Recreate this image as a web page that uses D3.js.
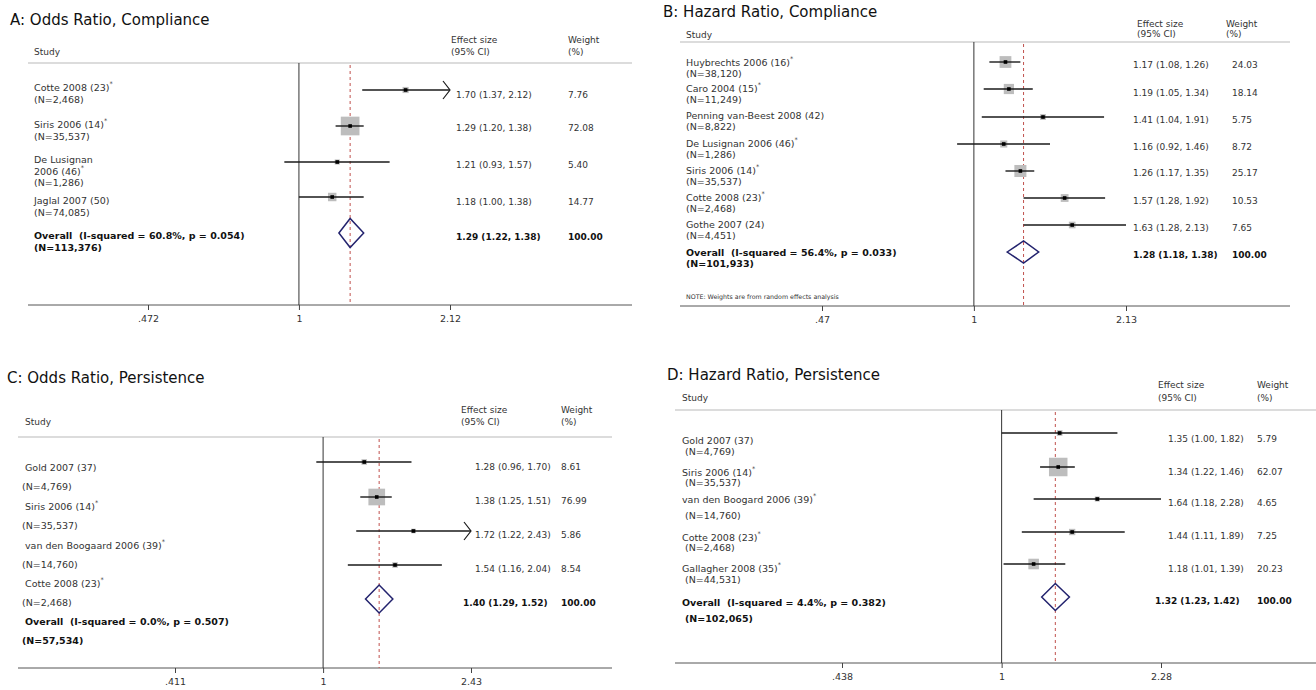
<!DOCTYPE html>
<html><head><meta charset="utf-8">
<script src="https://cdn.jsdelivr.net/npm/d3@7"></script>
<style>
body{margin:0;background:#fff}
svg{display:block;font-family:"DejaVu Sans",Verdana,sans-serif}
</style></head><body>
<svg id="chart" width="1316" height="690"></svg>
<script>
// ---- A: Odds Ratio, Compliance ----
const titleA = "A: Odds Ratio, Compliance";
const studiesA = ["Cotte 2008 (23)*", "Siris 2006 (14)*", "De Lusignan\n2006 (46)*", "Jaglal 2007 (50)"];
const sizesA = ["2,468", "35,537", "1,286", "74,085"];
const esA = [1.70, 1.29, 1.21, 1.18];
const lowerA = [1.37, 1.20, 0.93, 1.00];
const upperA = [2.12, 1.38, 1.57, 1.38];
const weightA = [7.76, 72.08, 5.40, 14.77];
const offscaleA = [true, false, false, false];
const overallA = [1.29, 1.22, 1.38];
const overallStatsA = ["60.8%", "0.054", "113,376"];
const ticksA = [0.472, 1, 2.12];
const tickLabelsA = [".472", "1", "2.12"];

// ---- B: Hazard Ratio, Compliance ----
const titleB = "B: Hazard Ratio, Compliance";
const studiesB = ["Huybrechts 2006 (16)*", "Caro 2004 (15)*", "Penning van-Beest 2008 (42)", "De Lusignan 2006 (46)*", "Siris 2006 (14)*", "Cotte 2008 (23)*", "Gothe 2007 (24)"];
const sizesB = ["38,120", "11,249", "8,822", "1,286", "35,537", "2,468", "4,451"];
const esB = [1.17, 1.19, 1.41, 1.16, 1.26, 1.57, 1.63];
const lowerB = [1.08, 1.05, 1.04, 0.92, 1.17, 1.28, 1.28];
const upperB = [1.26, 1.34, 1.91, 1.46, 1.35, 1.92, 2.13];
const weightB = [24.03, 18.14, 5.75, 8.72, 25.17, 10.53, 7.65];
const offscaleB = [false, false, false, false, false, false, false];
const overallB = [1.28, 1.18, 1.38];
const overallStatsB = ["56.4%", "0.033", "101,933"];
const ticksB = [0.47, 1, 2.13];
const tickLabelsB = [".47", "1", "2.13"];
const noteB = "NOTE: Weights are from random effects analysis";

// ---- C: Odds Ratio, Persistence ----
const titleC = "C: Odds Ratio, Persistence";
const studiesC = ["Gold 2007 (37)", "Siris 2006 (14)*", "van den Boogaard 2006 (39)*", "Cotte 2008 (23)*"];
const sizesC = ["4,769", "35,537", "14,760", "2,468"];
const esC = [1.28, 1.38, 1.72, 1.54];
const lowerC = [0.96, 1.25, 1.22, 1.16];
const upperC = [1.70, 1.51, 2.43, 2.04];
const weightC = [8.61, 76.99, 5.86, 8.54];
const offscaleC = [false, false, true, false];
const overallC = [1.40, 1.29, 1.52];
const overallStatsC = ["0.0%", "0.507", "57,534"];
const ticksC = [0.411, 1, 2.43];
const tickLabelsC = [".411", "1", "2.43"];

// ---- D: Hazard Ratio, Persistence ----
const titleD = "D: Hazard Ratio, Persistence";
const studiesD = ["Gold 2007 (37)", "Siris 2006 (14)*", "van den Boogard 2006 (39)*", "Cotte 2008 (23)*", "Gallagher 2008 (35)*"];
const sizesD = ["4,769", "35,537", "14,760", "2,468", "44,531"];
const esD = [1.35, 1.34, 1.64, 1.44, 1.18];
const lowerD = [1.00, 1.22, 1.18, 1.11, 1.01];
const upperD = [1.82, 1.46, 2.28, 1.89, 1.39];
const weightD = [5.79, 62.07, 4.65, 7.25, 20.23];
const offscaleD = [false, false, false, false, false];
const overallD = [1.32, 1.23, 1.42];
const overallStatsD = ["4.4%", "0.382", "102,065"];
const ticksD = [0.438, 1, 2.28];
const tickLabelsD = [".438", "1", "2.28"];

// Layout of each panel on the page
const layouts = {
  A: {title: [10, 20], studyHead: [34, 52], esHead: [451, 40], wHead: [568, 40], headGap: 12,
      headLine: 63, left: 28, right: 632, axisY: 305, tickRange: [148, 450],
      rows: [90, 126, 162, 197, 233], labelY: [87, 124, 159, 200, 235], labelGap: 11.5,
      labelX: 34, nX: 34, valY: [95, 128, 165, 202, 237], valX: 456, overallValX: 456, wX: 568,
      box: 2.2, diamondH: 29},
  B: {title: [663, 12], studyHead: [686, 35], esHead: [1137, 24], wHead: [1226, 24], headGap: 10,
      headLine: 42, left: 680, right: 1290, axisY: 306, tickRange: [822, 1126],
      rows: [62, 89, 117, 144, 171, 198, 225, 252], labelY: [62, 88, 115, 143, 170, 197, 224, 252], labelGap: 11,
      labelX: 686, nX: 686, valY: [65, 93, 120, 147, 173, 201, 228, 255], valX: 1133, overallValX: 1133, wX: 1232,
      box: 2.4, diamondH: 22, note: [686, 296]},
  C: {title: [7, 378], studyHead: [25, 422], esHead: [461, 410], wHead: [561, 410], headGap: 12,
      headLine: 437, left: 18, right: 612, axisY: 668, tickRange: [175, 471],
      rows: [462, 497, 531, 565, 599], labelY: [467, 506, 545, 583, 621], labelGap: 19.4,
      labelX: 25, nX: 22, valY: [467, 501, 535, 569, 603], valX: 475, overallValX: 463, wX: 561,
      box: 1.9, diamondH: 28},
  D: {title: [667, 375], studyHead: [682, 398], esHead: [1158, 385], wHead: [1257, 385], headGap: 13,
      headLine: 410, left: 675, right: 1316, axisY: 663, tickRange: [842, 1161],
      rows: [433, 467, 499, 532, 564, 597], labelY: [440, 472.3, 499.3, 536.7, 568.3, 601.7],
      labelGap: [10.7, 9.4, 15.7, 10, 11, 16.7],
      labelX: 682, nX: 685, valY: [439, 472, 503, 536, 569, 601], valX: 1168, overallValX: 1155, wX: 1257,
      box: 2.35, diamondH: 27}
};

const panels = [
  {key: "A", title: titleA, studies: studiesA, sizes: sizesA, es: esA, lo: lowerA, hi: upperA, w: weightA, off: offscaleA, overall: overallA, stats: overallStatsA, ticks: ticksA, tickLabels: tickLabelsA},
  {key: "B", title: titleB, studies: studiesB, sizes: sizesB, es: esB, lo: lowerB, hi: upperB, w: weightB, off: offscaleB, overall: overallB, stats: overallStatsB, ticks: ticksB, tickLabels: tickLabelsB, note: noteB},
  {key: "C", title: titleC, studies: studiesC, sizes: sizesC, es: esC, lo: lowerC, hi: upperC, w: weightC, off: offscaleC, overall: overallC, stats: overallStatsC, ticks: ticksC, tickLabels: tickLabelsC},
  {key: "D", title: titleD, studies: studiesD, sizes: sizesD, es: esD, lo: lowerD, hi: upperD, w: weightD, off: offscaleD, overall: overallD, stats: overallStatsD, ticks: ticksD, tickLabels: tickLabelsD}
];

const svg = d3.select("#chart");
const f2 = d3.format(".2f");
const ciText = (e, l, h) => `${f2(e)} (${f2(l)}, ${f2(h)})`;

// Writes a label line; a trailing "*" is set as a small superscript
function labelLine(g, x, y, str, opts) {
  const t = g.append("text").attr("x", x).attr("y", y)
    .attr("dominant-baseline", "central")
    .attr("font-size", opts.size).attr("fill", opts.fill)
    .attr("font-weight", opts.weight || "normal")
    .style("white-space", "pre");
  const star = str.endsWith("*");
  t.append("tspan").text(star ? str.slice(0, -1) : str);
  if (star) t.append("tspan").attr("dy", -3).attr("font-size", 6.5).text("*");
  return t;
}

function drawPanel(p) {
  const L = layouts[p.key];
  const g = svg.append("g").attr("class", "panel-" + p.key);
  const x = d3.scaleLog().domain([p.ticks[0], p.ticks[2]]).range(L.tickRange);
  const gap = i => Array.isArray(L.labelGap) ? L.labelGap[i] : L.labelGap;

  // title
  g.append("text").attr("x", L.title[0]).attr("y", L.title[1])
    .attr("dominant-baseline", "central").attr("font-size", 15).attr("fill", "#111")
    .text(p.title);

  // column headers
  const head = {size: 9, fill: "#333"};
  labelLine(g, L.studyHead[0], L.studyHead[1], "Study", head);
  labelLine(g, L.esHead[0], L.esHead[1], "Effect size", head);
  labelLine(g, L.esHead[0], L.esHead[1] + L.headGap, "(95% CI)", head);
  labelLine(g, L.wHead[0], L.wHead[1], "Weight", head);
  labelLine(g, L.wHead[0], L.wHead[1] + L.headGap, "(%)", head);

  g.append("line").attr("x1", L.left).attr("x2", L.right)
    .attr("y1", L.headLine).attr("y2", L.headLine)
    .attr("stroke", "#dcdcdc").attr("stroke-width", 2);

  // axis
  g.append("line").attr("x1", L.left).attr("x2", L.right)
    .attr("y1", L.axisY).attr("y2", L.axisY)
    .attr("stroke", "#555").attr("stroke-width", 1);
  const ax = g.append("g").attr("transform", `translate(0,${L.axisY})`)
    .call(d3.axisBottom(x).tickValues(p.ticks)
      .tickFormat((d, i) => p.tickLabels[i]).tickSize(5).tickPadding(5));
  ax.select(".domain").remove();
  ax.selectAll(".tick line").attr("stroke", "#444");
  ax.selectAll(".tick text").attr("font-size", 9.5).attr("fill", "#333")
    .attr("font-family", "DejaVu Sans, Verdana, sans-serif");

  // line of no effect and pooled estimate
  g.append("line").attr("x1", x(1)).attr("x2", x(1))
    .attr("y1", L.headLine).attr("y2", L.axisY)
    .attr("stroke", "#333").attr("stroke-width", 1);
  g.append("line").attr("x1", x(p.overall[0])).attr("x2", x(p.overall[0]))
    .attr("y1", L.headLine + 2).attr("y2", L.axisY)
    .attr("stroke", "#c0504d").attr("stroke-width", 1).attr("stroke-dasharray", "3,3");

  // study rows
  const lab = {size: 9.5, fill: "#333"};
  p.studies.forEach((name, i) => {
    const y = L.rows[i];
    const s = L.box * Math.sqrt(p.w[i]);
    g.append("rect").attr("x", x(p.es[i]) - s / 2).attr("y", y - s / 2)
      .attr("width", s).attr("height", s).attr("fill", "#bdbdbd");
    g.append("line").attr("x1", x(p.lo[i])).attr("x2", x(p.hi[i]))
      .attr("y1", y).attr("y2", y).attr("stroke", "#1a1a1a").attr("stroke-width", 1.4);
    if (p.off[i]) {
      const xe = x(p.hi[i]);
      g.append("path").attr("d", `M${xe - 7},${y - 9}L${xe},${y}L${xe - 7},${y + 9}`)
        .attr("fill", "none").attr("stroke", "#1a1a1a").attr("stroke-width", 1.2);
    }
    g.append("rect").attr("x", x(p.es[i]) - 1.8).attr("y", y - 1.8)
      .attr("width", 3.6).attr("height", 3.6).attr("fill", "#000");

    // label text
    const lines = name.split("\n");
    let ly = L.labelY[i];
    lines.forEach((ln, k) => {
      labelLine(g, L.labelX, ly, ln, lab);
      ly += gap(i);
    });
    labelLine(g, L.nX, ly, `(N=${p.sizes[i]})`, lab);

    labelLine(g, L.valX, L.valY[i], ciText(p.es[i], p.lo[i], p.hi[i]), {size: 9, fill: "#333"});
    labelLine(g, L.wX, L.valY[i], f2(p.w[i]), {size: 9, fill: "#333"});
  });

  // pooled row
  const n = p.studies.length;
  const yo = L.rows[n];
  const [oe, ol, oh] = p.overall;
  const h = L.diamondH / 2;
  g.append("path")
    .attr("d", `M${x(ol)},${yo}L${x(oe)},${yo - h}L${x(oh)},${yo}L${x(oe)},${yo + h}Z`)
    .attr("fill", "none").attr("stroke", "#23236e").attr("stroke-width", 1.5);
  const bold = {size: 9.5, fill: "#111", weight: "bold"};
  labelLine(g, L.labelX, L.labelY[n], `Overall  (I-squared = ${p.stats[0]}, p = ${p.stats[1]})`, bold);
  labelLine(g, L.nX, L.labelY[n] + gap(n), `(N=${p.stats[2]})`, bold);
  labelLine(g, L.overallValX, L.valY[n], ciText(oe, ol, oh), {size: 9, fill: "#111", weight: "bold"});
  labelLine(g, L.wX, L.valY[n], "100.00", {size: 9, fill: "#111", weight: "bold"});

  if (p.note) {
    g.append("text").attr("x", L.note[0]).attr("y", L.note[1])
      .attr("dominant-baseline", "central").attr("font-size", 6.3).attr("fill", "#333")
      .text(p.note);
  }
}

panels.forEach(drawPanel);
</script>
</body></html>
